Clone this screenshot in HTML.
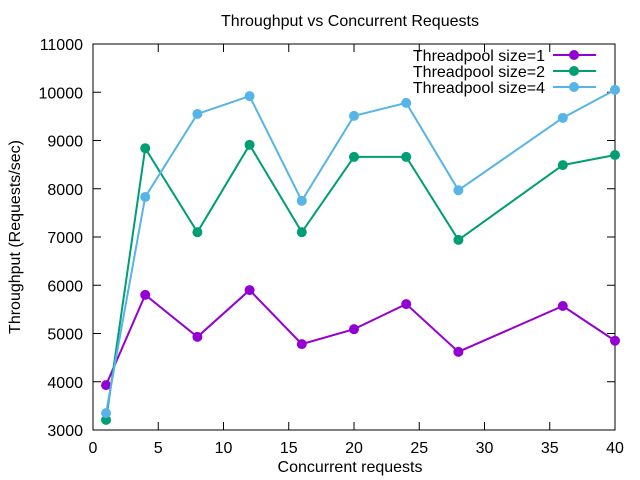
<!DOCTYPE html>
<html><head><meta charset="utf-8"><style>
html,body{margin:0;padding:0;background:#fff}
svg{display:block;font-family:"Liberation Sans",sans-serif}
</style></head><body>
<svg id="chart" width="640" height="480" viewBox="0 0 640 480" xmlns="http://www.w3.org/2000/svg">
<rect width="640" height="480" fill="#fff"/>
<text x="350" y="26" text-anchor="middle" font-size="16">Throughput vs Concurrent Requests</text>
<text x="350" y="472" text-anchor="middle" font-size="16">Concurrent requests</text>
<text transform="translate(20,237) rotate(-90)" text-anchor="middle" font-size="16">Throughput (Requests/sec)</text>
<g id="axes"></g>
<g id="series"></g>
<g id="legend"></g>
</svg>
<script>
const xValues = [1, 4, 8, 12, 16, 20, 24, 28, 36, 40];
const pool1 = [3930, 5800, 4930, 5900, 4780, 5090, 5610, 4620, 5570, 4850];
const pool2 = [3210, 8840, 7100, 8910, 7100, 8660, 8660, 6940, 8490, 8700];
const pool4 = [3350, 7830, 9550, 9920, 7750, 9510, 9780, 7970, 9470, 10050];
const seriesNames = ["Threadpool size=1", "Threadpool size=2", "Threadpool size=4"];
const xTicks = [0, 5, 10, 15, 20, 25, 30, 35, 40];
const yTicks = [3000, 4000, 5000, 6000, 7000, 8000, 9000, 10000, 11000];

const NS = "http://www.w3.org/2000/svg";
const L = 93, R = 615, T = 44, B = 430;
const xs = v => L + (v - 0) / 40 * (R - L);
const ys = v => B - (v - 3000) / 8000 * (B - T);
function mk(tag, attrs, parent) {
  const e = document.createElementNS(NS, tag);
  for (const k in attrs) e.setAttribute(k, attrs[k]);
  parent.appendChild(e);
  return e;
}
const axes = document.getElementById('axes');
const frame = mk('rect', {x: L, y: T, width: R - L, height: B - T, fill: 'none', stroke: '#000', 'stroke-width': 1}, axes);


yTicks.forEach(v => {
  const y = ys(v);
  mk('line', {x1: L, x2: L + 8, y1: y, y2: y, stroke: '#000'}, axes);
  mk('line', {x1: R, x2: R - 8, y1: y, y2: y, stroke: '#000'}, axes);
  const t = mk('text', {x: 83, y: y + 6, 'text-anchor': 'end', 'font-size': 16}, axes);
  t.textContent = v;
  
  
});
xTicks.forEach(v => {
  const x = xs(v);
  mk('line', {x1: x, x2: x, y1: B, y2: B - 8, stroke: '#000'}, axes);
  mk('line', {x1: x, x2: x, y1: T, y2: T + 8, stroke: '#000'}, axes);
  const t = mk('text', {x: x, y: 453, 'text-anchor': 'middle', 'font-size': 16}, axes);
  t.textContent = v;
  
  
});
const colors = ['#9400d3', '#009e73', '#56b4e9'];
const data = [pool1, pool2, pool4];
const sg = document.getElementById('series');
const lg = document.getElementById('legend');
data.forEach((vals, i) => {
  const g = mk('g', {}, sg);
  
  
  const pts = vals.map((v, j) => xs(xValues[j]) + ',' + ys(v)).join(' ');
  const pl = mk('polyline', {points: pts, fill: 'none', stroke: colors[i], 'stroke-width': 2}, g);
  
  
  vals.forEach((v, j) => {
    const c = mk('circle', {cx: xs(xValues[j]), cy: ys(v), r: 5, fill: colors[i]}, g);
    
    
  });
  const ly = 55 + i * 16;
  const t = mk('text', {x: 545, y: ly + 6, 'text-anchor': 'end', 'font-size': 16}, lg);
  t.textContent = seriesNames[i];
  
  
  const ln = mk('line', {x1: 553, x2: 596, y1: ly, y2: ly, stroke: colors[i], 'stroke-width': 2}, lg);
  
  
  const m = mk('circle', {cx: 574, cy: ly, r: 5, fill: colors[i]}, lg);
  
  
});
</script>
</body></html>
